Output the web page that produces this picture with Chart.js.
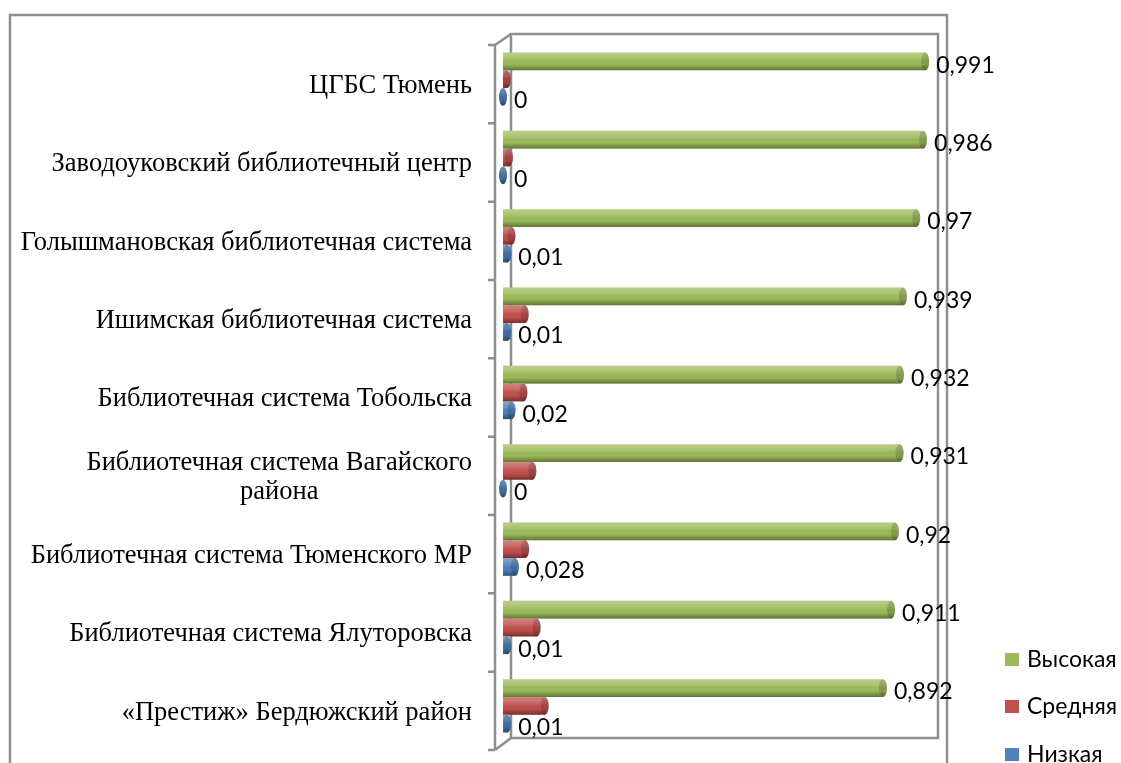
<!DOCTYPE html>
<html>
<head>
<meta charset="utf-8">
<script src="https://cdn.jsdelivr.net/npm/chart.js@4.4.1/dist/chart.umd.min.js"></script>
<style>
  html, body { margin: 0; padding: 0; background: #fff; overflow: hidden; }
  #grafico { display: block; }
</style>
</head>
<body>
<canvas id="grafico" width="1121" height="763"></canvas>
<script>
// категории (сверху вниз)
const kategorii = [
    'ЦГБС Тюмень',
    'Заводоуковский библиотечный центр',
    'Голышмановская библиотечная система',
    'Ишимская библиотечная система',
    'Библиотечная система Тобольска',
    ['Библиотечная система Вагайского', 'района'],
    'Библиотечная система Тюменского МР',
    'Библиотечная система Ялуторовска',
    '«Престиж» Бердюжский район'
];
const vysokaya  = [0.991, 0.986, 0.97, 0.939, 0.932, 0.931, 0.92, 0.911, 0.892];
const srednyaya = [0.009, 0.014, 0.02, 0.051, 0.048, 0.069, 0.052, 0.079, 0.098];
const nizkaya   = [0, 0, 0.01, 0.01, 0.02, 0, 0.028, 0.01, 0.01];

const cvetVys = '#9BBB59';
const cvetSr = '#C0504D';
const cvetNiz = '#4F81BD';
const cvetRamki = '#8E8E8E';

const shriftKat = '26.5px "Liberation Serif", "Times New Roman", serif';
const shriftZnach = '23px Lato, "Open Sans", sans-serif';
const shriftLeg = '23px Lato, "Open Sans", sans-serif';

function fmt(v) {
    return String(v).replace('.', ',');
}

// рамки, псевдо-3D стенка и ось категорий
const ramka = {
    id: 'ramka',
    beforeDatasetsDraw(chart) {
        const c = chart.ctx;
        const a = chart.chartArea;
        const y = chart.scales.y;
        const shag = (a.bottom - a.top) / kategorii.length;
        const osX = a.left - 8;
        const stenaL = a.left + 8, stenaR = a.right + 9;
        const stenaT = a.top - 6, stenaB = a.bottom - 7;
        const frontT = a.top + 5, frontB = a.bottom + 5;
        c.save();
        c.strokeStyle = cvetRamki;
        c.lineWidth = 2.5;
        // внешняя рамка
        c.beginPath();
        c.moveTo(10, 763); c.lineTo(10, 15); c.lineTo(947, 15); c.lineTo(947, 763);
        c.stroke();
        // задняя стенка
        c.beginPath();
        c.moveTo(osX, frontT); c.lineTo(stenaL, stenaT); c.lineTo(stenaR, stenaT);
        c.lineTo(stenaR, stenaB); c.lineTo(stenaL, stenaB); c.lineTo(osX, frontB);
        c.moveTo(stenaL, stenaT); c.lineTo(stenaL, stenaB);
        c.stroke();
        // ось категорий с делениями
        c.beginPath();
        c.moveTo(osX, frontT); c.lineTo(osX, frontB);
        for (let i = 0; i <= kategorii.length; i++) {
            const ty = frontT + i * shag;
            c.moveTo(osX - 7, ty); c.lineTo(osX, ty);
        }
        c.stroke();

        // подписи категорий
        c.fillStyle = '#000';
        c.font = shriftKat;
        c.textBaseline = 'middle';
        c.textAlign = 'center';
        const pravo = 472;
        const lh = 29;
        kategorii.forEach((kat, i) => {
            const stroki = Array.isArray(kat) ? kat : [kat];
            const w = Math.max(...stroki.map(s => c.measureText(s).width));
            const cy = y.getPixelForValue(i) + 5;
            stroki.forEach((s, k) => {
                c.fillText(s, pravo - w / 2, cy + (k - (stroki.length - 1) / 2) * lh + 2);
            });
        });
        c.restore();
    },
    afterDatasetsDraw(chart) {
        const c = chart.ctx;
        c.save();
        chart.data.datasets.forEach((ds, di) => {
            const meta = chart.getDatasetMeta(di);
            meta.data.forEach((el, i) => {
                const p = el.getProps(['x', 'y', 'base', 'height'], true);
                const h = p.height;
                const top = p.y - h / 2;
                // объём цилиндра
                const g = c.createLinearGradient(0, top, 0, top + h);
                g.addColorStop(0, 'rgba(255,255,255,0.30)');
                g.addColorStop(0.35, 'rgba(255,255,255,0.12)');
                g.addColorStop(0.65, 'rgba(0,0,0,0.0)');
                g.addColorStop(1, 'rgba(0,0,0,0.38)');
                if (p.x - p.base > 0) {
                    c.fillStyle = g;
                    c.fillRect(p.base, top, p.x - p.base, h);
                }
                // торец цилиндра
                c.beginPath();
                c.ellipse(p.x, p.y, 4, h / 2, 0, 0, Math.PI * 2);
                c.fillStyle = ds.backgroundColor;
                c.fill();
                c.fillStyle = g;
                c.fill();
                c.fillStyle = 'rgba(0,0,0,0.15)';
                c.fill();
            });
        });

        // подписи значений: Высокая и Низкая
        c.fillStyle = '#000';
        c.font = shriftZnach;
        c.textAlign = 'left';
        c.textBaseline = 'middle';
        [0, 2].forEach(di => {
            const meta = chart.getDatasetMeta(di);
            const vals = chart.data.datasets[di].data;
            meta.data.forEach((el, i) => {
                const p = el.getProps(['x', 'y'], true);
                c.fillText(fmt(vals[i]), p.x + 11, p.y + 4);
            });
        });

        // легенда
        c.font = shriftLeg;
        const legY = [660, 707, 755];
        chart.data.datasets.forEach((ds, di) => {
            c.fillStyle = ds.backgroundColor;
            c.fillRect(1005, legY[di] - 7, 14, 13);
            c.fillStyle = '#000';
            c.fillText(ds.label, 1027, legY[di]);
        });
        c.restore();
    }
};

function risovat() {
    new Chart(document.getElementById('grafico'), {
        type: 'bar',
        data: {
            labels: kategorii,
            datasets: [
                { label: 'Высокая', data: vysokaya, backgroundColor: cvetVys },
                { label: 'Средняя', data: srednyaya, backgroundColor: cvetSr },
                { label: 'Низкая', data: nizkaya, backgroundColor: cvetNiz }
            ]
        },
        options: {
            indexAxis: 'y',
            responsive: false,
            animation: false,
            categoryPercentage: 0.68,
            barPercentage: 1.0,
            borderWidth: 0,
            layout: {
                padding: { left: 503, right: 192, top: 40, bottom: 18 }
            },
            plugins: {
                legend: { display: false },
                tooltip: { enabled: false }
            },
            scales: {
                x: { display: false, min: 0, max: 1 },
                y: { display: false }
            }
        },
        plugins: [ramka]
    });
}

Promise.all([
    document.fonts.load(shriftKat),
    document.fonts.load(shriftZnach)
]).then(risovat, risovat);
</script>
</body>
</html>
